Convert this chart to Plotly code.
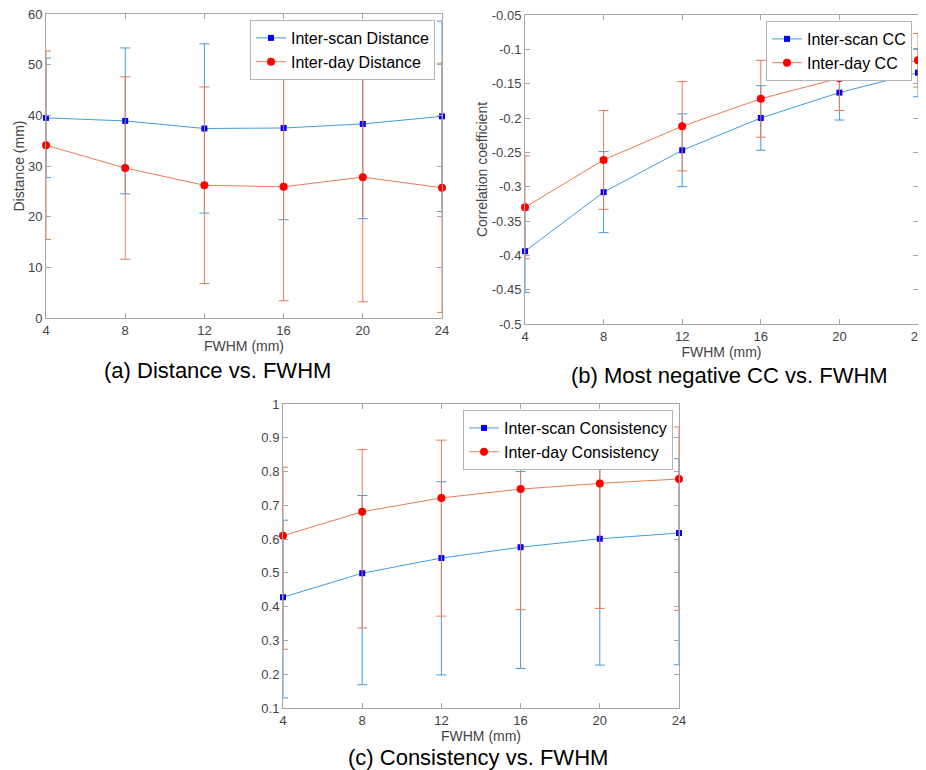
import plotly.graph_objects as go

fwhm = [4, 8, 12, 16, 20, 24]

# (a) distance
scan_dist = [39.5, 38.9, 37.4, 37.5, 38.3, 39.8]
scan_dist_err = [11.8, 14.4, 16.7, 18.1, 18.7, 18.8]
day_dist = [34.1, 29.6, 26.2, 25.9, 27.8, 25.7]
day_dist_err = [18.6, 18.0, 19.4, 22.5, 24.6, 24.6]

# (b) most negative correlation coefficient
scan_cc = [-0.394, -0.308, -0.247, -0.200, -0.163, -0.134]
scan_cc_err = [0.060, 0.059, 0.053, 0.047, 0.040, 0.035]
day_cc = [-0.330, -0.261, -0.212, -0.172, -0.142, -0.116]
day_cc_err = [0.075, 0.072, 0.065, 0.056, 0.047, 0.039]

# (c) consistency (asymmetric bars)
scan_cons = [0.428, 0.499, 0.544, 0.576, 0.601, 0.618]
scan_cons_up = [0.228, 0.230, 0.226, 0.224, 0.221, 0.220]
scan_cons_down = [0.298, 0.330, 0.346, 0.359, 0.374, 0.390]
day_cons = [0.610, 0.681, 0.722, 0.748, 0.765, 0.778]
day_cons_up = [0.203, 0.184, 0.171, 0.163, 0.158, 0.154]
day_cons_down = [0.336, 0.344, 0.350, 0.357, 0.370, 0.389]

dist_ticks = [0, 10, 20, 30, 40, 50, 60]
cc_ticks = [-0.5, -0.45, -0.4, -0.35, -0.3, -0.25, -0.2, -0.15, -0.1, -0.05]
cc_labels = ['-0.5', '-0.45', '-0.4', '-0.35', '-0.3', '-0.25', '-0.2', '-0.15', '-0.1', '-0.05']
cons_ticks = [0.1, 0.2, 0.3, 0.4, 0.5, 0.6, 0.7, 0.8, 0.9, 1.0]
cons_labels = ['0.1', '0.2', '0.3', '0.4', '0.5', '0.6', '0.7', '0.8', '0.9', '1']

captions = ['(a) Distance vs. FWHM', '(b) Most negative CC vs. FWHM', '(c) Consistency vs. FWHM']

FONT = 'Liberation Sans, Arial, sans-serif'
BLUE_LINE = '#3f9ddb'
ORANGE_LINE = '#ec7a52'
# the page body has an 8px margin: positions below are window pixels, shifted by it
OFF = 8
W, H = 926, 770


def px_x(p):
    return (p - OFF) / W


def px_y(p):
    return 1 - (p - OFF) / H


def series(x, y, err, name, kind, axis_id, legend, err_minus=None):
    if kind == 'scan':
        line_c, mk = BLUE_LINE, dict(symbol='square', size=6, color='#0000ff')
    else:
        line_c, mk = ORANGE_LINE, dict(symbol='circle', size=8, color='#ff0000')
    ey = dict(type='data', array=err, visible=True, color=line_c, thickness=1, width=5)
    if err_minus is not None:
        ey['symmetric'] = False
        ey['arrayminus'] = err_minus
    sfx = '' if axis_id == 1 else str(axis_id)
    return go.Scatter(x=x, y=y, name=name, mode='lines+markers',
                      line=dict(color=line_c, width=1), marker=mk, error_y=ey,
                      xaxis='x' + sfx, yaxis='y' + sfx, legend=legend, cliponaxis=False)


fig = go.Figure()
fig.add_trace(series(fwhm, scan_dist, scan_dist_err, 'Inter-scan Distance', 'scan', 1, 'legend'))
fig.add_trace(series(fwhm, day_dist, day_dist_err, 'Inter-day Distance', 'day', 1, 'legend'))
fig.add_trace(series(fwhm, scan_cc, scan_cc_err, 'Inter-scan CC', 'scan', 2, 'legend2'))
fig.add_trace(series(fwhm, day_cc, day_cc_err, 'Inter-day CC', 'day', 2, 'legend2'))
fig.add_trace(series(fwhm, scan_cons, scan_cons_up, 'Inter-scan Consistency', 'scan', 3, 'legend3', scan_cons_down))
fig.add_trace(series(fwhm, day_cons, day_cons_up, 'Inter-day Consistency', 'day', 3, 'legend3', day_cons_down))

axis_style = dict(showline=True, linecolor='#a6a6a6', linewidth=1, mirror='ticks',
                  ticks='inside', ticklen=5, tickcolor='#a6a6a6', showgrid=False,
                  zeroline=False, automargin=False, ticklabeloverflow='allow',
                  tickfont=dict(size=13, color='#444444', family=FONT))


def xaxis(dom, anchor):
    return dict(axis_style, domain=dom, anchor=anchor, range=[4, 24], tickvals=fwhm,
                title=dict(text='FWHM (mm)', font=dict(size=14, color='#444444'), standoff=4))


def yaxis(dom, anchor, rng, tv, tt, title):
    return dict(axis_style, domain=dom, anchor=anchor, range=rng, tickvals=tv, ticktext=tt,
                title=dict(text=title, font=dict(size=14, color='#444444'), standoff=0))


legend_style = dict(bgcolor='white', bordercolor='#b3b3b3', borderwidth=1,
                    font=dict(size=16, color='black', family=FONT),
                    xanchor='right', yanchor='top', tracegroupgap=0, itemwidth=30)

fig.update_layout(
    width=W, height=H, margin=dict(l=0, r=0, t=0, b=0),
    paper_bgcolor='white', plot_bgcolor='white',
    font=dict(family=FONT),
    xaxis=xaxis([px_x(46), px_x(442)], 'y'),
    yaxis=yaxis([px_y(318), px_y(14)], 'x', [0, 60], dist_ticks, [str(t) for t in dist_ticks], 'Distance (mm)'),
    xaxis2=xaxis([px_x(525), px_x(918)], 'y2'),
    yaxis2=yaxis([px_y(324), px_y(15)], 'x2', [-0.5, -0.05], cc_ticks, cc_labels, 'Correlation coefficient'),
    xaxis3=xaxis([px_x(283), px_x(679)], 'y3'),
    yaxis3=yaxis([px_y(708), px_y(404)], 'x3', [0.1, 1.0], cons_ticks, cons_labels, ''),
    legend=dict(legend_style, x=px_x(435), y=px_y(20)),
    legend2=dict(legend_style, x=px_x(912), y=px_y(21)),
    legend3=dict(legend_style, x=px_x(673), y=px_y(410)),
    showlegend=True,
)

cap_pos = [(217, 370), (729, 375), (478, 757)]
for txt, (cx, cy) in zip(captions, cap_pos):
    fig.add_annotation(text=txt, x=px_x(cx), y=px_y(cy), xref='paper', yref='paper',
                       showarrow=False, xanchor='center', yanchor='middle',
                       font=dict(size=22, color='black', family=FONT))

fig.write_html('out.html')
